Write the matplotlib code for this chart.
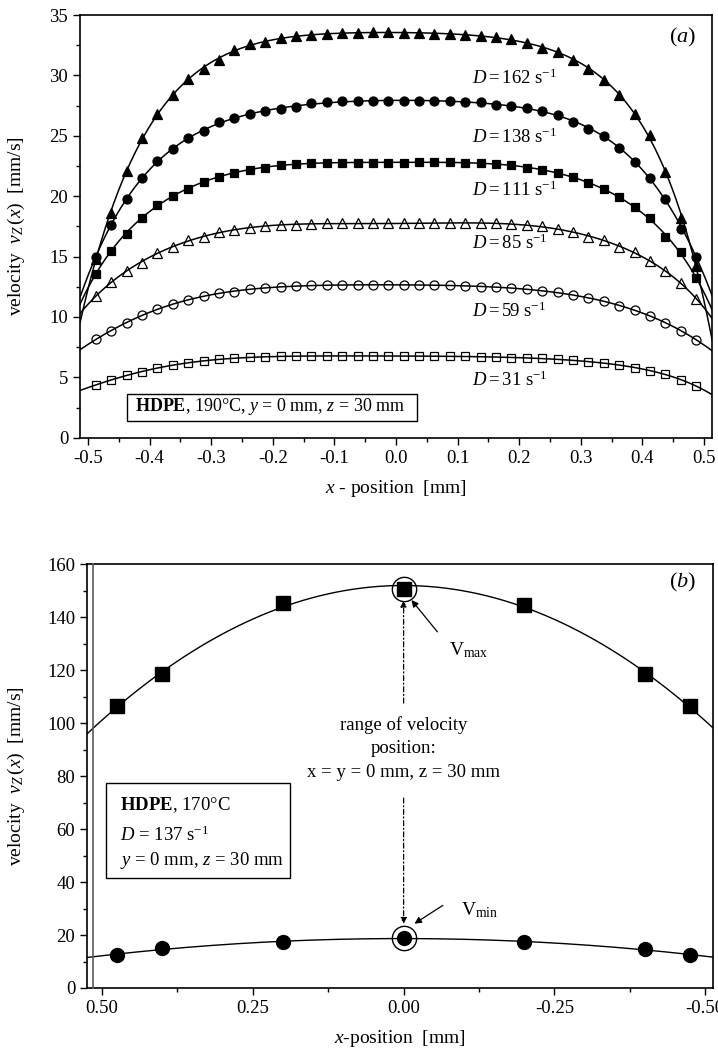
import numpy as np
import matplotlib
matplotlib.use("Agg")
import matplotlib.pyplot as plt
from matplotlib.ticker import MultipleLocator, FormatStrFormatter
from matplotlib.patches import Rectangle

plt.rcParams['font.family'] = ['Liberation Serif', 'DejaVu Serif']
plt.rcParams['mathtext.fontset'] = 'custom'
plt.rcParams['mathtext.rm'] = 'Liberation Serif'
plt.rcParams['mathtext.it'] = 'Liberation Serif:italic'
plt.rcParams['mathtext.bf'] = 'Liberation Serif:bold'
plt.rcParams['axes.unicode_minus'] = False

# ---------------- data panel (a) ----------------
x_a = [-0.4875, -0.4625, -0.4375, -0.4125, -0.3875, -0.3625, -0.3375, -0.3125,
       -0.2875, -0.2625, -0.2375, -0.2125, -0.1875, -0.1625, -0.1375, -0.1125,
       -0.0875, -0.0625, -0.0375, -0.0125, 0.0125, 0.0375, 0.0625, 0.0875,
       0.1125, 0.1375, 0.1625, 0.1875, 0.2125, 0.2375, 0.2625, 0.2875,
       0.3125, 0.3375, 0.3625, 0.3875, 0.4125, 0.4375, 0.4625, 0.4875]

v_162 = [14.8, 18.6, 22.1, 24.8, 26.8, 28.4, 29.7, 30.5, 31.3, 32.1,
         32.6, 32.8, 33.1, 33.25, 33.35, 33.4, 33.5, 33.55, 33.56, 33.56,
         33.55, 33.47, 33.45, 33.4, 33.36, 33.3, 33.2, 33.0, 32.7, 32.3,
         31.95, 31.3, 30.5, 29.6, 28.4, 26.8, 25.1, 22.0, 18.2, 14.2]
v_138 = [15.0, 17.6, 19.75, 21.5, 22.9, 23.9, 24.8, 25.4, 26.1, 26.5,
         26.8, 27.05, 27.2, 27.4, 27.7, 27.77, 27.87, 27.9, 27.9, 27.9,
         27.9, 27.9, 27.85, 27.85, 27.8, 27.8, 27.55, 27.5, 27.3, 27.05,
         26.7, 26.1, 25.6, 25.0, 24.0, 22.8, 21.5, 19.8, 17.3, 15.0]
v_111 = [13.55, 15.5, 16.9, 18.2, 19.3, 20.0, 20.6, 21.2, 21.6, 21.9,
         22.2, 22.35, 22.57, 22.7, 22.77, 22.77, 22.77, 22.77, 22.77, 22.77,
         22.77, 22.8, 22.84, 22.8, 22.77, 22.77, 22.7, 22.57, 22.3, 22.15,
         21.9, 21.6, 21.1, 20.6, 19.9, 19.1, 18.15, 16.6, 15.35, 13.2]
v_85 = [11.7, 12.9, 13.8, 14.5, 15.3, 15.8, 16.4, 16.6, 17.0, 17.2,
        17.4, 17.5, 17.6, 17.65, 17.7, 17.75, 17.75, 17.75, 17.75, 17.75,
        17.75, 17.75, 17.75, 17.75, 17.75, 17.75, 17.75, 17.7, 17.65, 17.5,
        17.3, 17.0, 16.6, 16.4, 15.8, 15.35, 14.6, 13.8, 12.8, 11.5]
v_59 = [8.15, 8.83, 9.52, 10.16, 10.63, 11.07, 11.4, 11.73, 11.95, 12.09,
        12.28, 12.37, 12.5, 12.58, 12.64, 12.64, 12.64, 12.64, 12.64, 12.64,
        12.64, 12.64, 12.64, 12.64, 12.6, 12.5, 12.45, 12.37, 12.28, 12.17,
        12.03, 11.8, 11.6, 11.3, 10.9, 10.55, 10.1, 9.52, 8.86, 8.1]
v_31 = [4.36, 4.78, 5.19, 5.46, 5.74, 6.02, 6.21, 6.35, 6.49, 6.57,
        6.65, 6.7, 6.76, 6.76, 6.76, 6.76, 6.76, 6.76, 6.76, 6.76,
        6.76, 6.76, 6.76, 6.76, 6.76, 6.7, 6.65, 6.62, 6.57, 6.57,
        6.49, 6.43, 6.3, 6.16, 6.02, 5.8, 5.55, 5.25, 4.78, 4.28]

series_a = [
    (v_162, '^', 'k', 7.2, r'$D = 162\ \mathrm{s}^{\mathrm{-1}}$', 29.75),
    (v_138, 'o', 'k', 6.5, r'$D = 138\ \mathrm{s}^{\mathrm{-1}}$', 24.9),
    (v_111, 's', 'k', 5.8, r'$D = 111\ \mathrm{s}^{\mathrm{-1}}$', 20.45),
    (v_85, '^', 'none', 7.0, r'$D = 85\ \mathrm{s}^{\mathrm{-1}}$', 16.1),
    (v_59, 'o', 'none', 6.5, r'$D = 59\ \mathrm{s}^{\mathrm{-1}}$', 10.43),
    (v_31, 's', 'none', 5.8, r'$D = 31\ \mathrm{s}^{\mathrm{-1}}$', 4.78),
]

# ---------------- data panel (b) ----------------
x_b = [0.475, 0.40, 0.20, 0.00, -0.20, -0.40, -0.475]
v_max = [106.4, 118.7, 145.2, 150.8, 144.5, 118.5, 106.4]
v_min = [12.5, 15.0, 17.5, 18.8, 17.3, 14.7, 12.5]

W, H = 718, 1054
fig = plt.figure(figsize=(W / 100, H / 100), dpi=100)

def frac_axes(l, t, r, b):
    return fig.add_axes([l / W, 1 - b / H, (r - l) / W, (b - t) / H])

TICK = 13.5
for_ax_style = dict(direction='out', labelsize=TICK, top=False, right=False)

# ================= panel (a) =================
ax = frac_axes(80, 15, 712, 437.7)
xa = np.array(x_a)
xfit_a = np.linspace(-0.513, 0.513, 300)
for vals, mk, fc, ms, lab, ly in series_a:
    p = np.polynomial.Polynomial.fit(xa, np.array(vals), 8)
    ax.plot(xfit_a, p(xfit_a), color='k', lw=1.1, zorder=2)
    ax.plot(xa, vals, linestyle='none', marker=mk, ms=ms, mfc=fc,
            mec='k', mew=0.9, zorder=3)
    ax.text(0.123, ly, lab, fontsize=13.5, va='center', ha='left')

ax.set_xlim(-0.513, 0.513)
ax.set_ylim(0, 35)
ax.xaxis.set_major_locator(MultipleLocator(0.1))
ax.xaxis.set_minor_locator(MultipleLocator(0.05))
ax.yaxis.set_major_locator(MultipleLocator(5))
ax.yaxis.set_minor_locator(MultipleLocator(2.5))
ax.xaxis.set_major_formatter(FormatStrFormatter('%.1f'))
ax.tick_params(which='major', length=5, width=1.0, **for_ax_style)
ax.tick_params(which='minor', length=3, width=1.0, direction='out', top=False, right=False)
for s in ax.spines.values():
    s.set_linewidth(1.2)
ax.set_ylabel(r'velocity  $v_Z\,(x)$  [mm/s]', fontsize=14)
ax.yaxis.set_label_coords(-0.084, 0.5)
ax.set_xlabel(r'$x$ - position  [mm]', fontsize=14)
ax.xaxis.set_label_coords(0.5, -0.095)
ax.xaxis.label.set_va('top')
ax.text(0.954, 0.946, '(' + r'$a$' + ')', transform=ax.transAxes, fontsize=16,
        ha='center', va='center')
ax.add_patch(Rectangle((0.074, 0.040), 0.459, 0.063, transform=ax.transAxes,
                       fill=False, ec='k', lw=1.0, zorder=4))
ax.text(0.087, 0.073, r'$\mathbf{HDPE}$, 190°C, $y$ = 0 mm, $z$ = 30 mm',
        transform=ax.transAxes, fontsize=13, ha='left', va='center')

# ================= panel (b) =================
bx = frac_axes(87, 564.3, 713, 988)
xb = np.array(x_b)
xfit_b = np.linspace(0.525, -0.513, 300)
for vals in [v_max, v_min]:
    p = np.polynomial.Polynomial.fit(xb, np.array(vals), 2)
    bx.plot(xfit_b, p(xfit_b), color='k', lw=1.0, zorder=2)
mk_b = [(v_max, 's', 9.5), (v_min, 'o', 10.0)]
for vals, mk, ms in mk_b:
    bx.plot(xb, vals, linestyle='none', marker=mk, ms=ms, mfc='k', mec='k', zorder=3)
    ic = list(x_b).index(0.0)
    bx.plot([x_b[ic]], [vals[ic]], linestyle='none', marker='o', ms=17.5,
            mfc='none', mec='k', mew=1.0, zorder=4)

bx.set_xlim(0.525, -0.513)
bx.set_ylim(0, 160)
bx.xaxis.set_major_locator(MultipleLocator(0.25))
bx.xaxis.set_minor_locator(MultipleLocator(0.125))
bx.yaxis.set_major_locator(MultipleLocator(20))
bx.yaxis.set_minor_locator(MultipleLocator(10))
bx.xaxis.set_major_formatter(FormatStrFormatter('%.2f'))
bx.tick_params(which='major', length=5, width=1.0, **for_ax_style)
bx.tick_params(which='minor', length=3, width=1.0, direction='out', top=False, right=False)
for s in bx.spines.values():
    s.set_linewidth(1.2)
bx.plot([0.0096, 0.0096], [0, 1], transform=bx.transAxes, color='0.35', lw=1.2,
        clip_on=False, zorder=5)
bx.set_ylabel(r'velocity  $v_Z\,(x)$  [mm/s]', fontsize=14)
bx.yaxis.set_label_coords(-0.096, 0.5)
bx.set_xlabel(r'$x$-position  [mm]', fontsize=14)
bx.xaxis.set_label_coords(0.5, -0.094)
bx.xaxis.label.set_va('top')
bx.text(0.952, 0.956, '(' + r'$b$' + ')', transform=bx.transAxes, fontsize=16,
        ha='center', va='center')

# dash-dot arrows
arr = dict(arrowstyle='-|>', linestyle=(0, (4, 2, 1, 2)), lw=0.9, color='k',
           mutation_scale=9, shrinkA=0, shrinkB=0)
bx.annotate('', xy=(0.0, 146.3), xytext=(0.0, 107.6), arrowprops=arr)
bx.annotate('', xy=(0.0, 24.2), xytext=(0.0, 71.7), arrowprops=arr)
bx.text(0.0, 99.3, 'range of velocity', fontsize=13.5, ha='center', va='center')
bx.text(0.0, 90.6, 'position:', fontsize=13.5, ha='center', va='center')
bx.text(0.0, 81.2, 'x = y = 0 mm, z = 30 mm', fontsize=13.5, ha='center', va='center')

sol = dict(arrowstyle='-|>', lw=0.9, color='k', mutation_scale=10,
           shrinkA=0, shrinkB=0)
bx.annotate('', xy=(-0.013, 146.5), xytext=(-0.056, 134.5), arrowprops=sol)
bx.text(-0.075, 127.5, r'V$_{\mathrm{max}}$', fontsize=14, ha='left', va='center')
bx.annotate('', xy=(-0.018, 24.3), xytext=(-0.065, 31.2), arrowprops=sol)
bx.text(-0.095, 29.5, r'V$_{\mathrm{min}}$', fontsize=14, ha='left', va='center')

bx.add_patch(Rectangle((0.030, 0.26), 0.294, 0.224, transform=bx.transAxes,
                       fill=False, ec='k', lw=1.0, zorder=4))
bx.text(0.053, 0.432, r'$\mathbf{HDPE}$, 170°C', transform=bx.transAxes,
        fontsize=13.5, ha='left', va='center')
bx.text(0.053, 0.361, r'$D$ = 137 s$^{\mathrm{-1}}$', transform=bx.transAxes,
        fontsize=13.5, ha='left', va='center')
bx.text(0.053, 0.302, r'$y$ = 0 mm, $z$ = 30 mm', transform=bx.transAxes,
        fontsize=13.5, ha='left', va='center')

fig.savefig('out.png', dpi=100)
